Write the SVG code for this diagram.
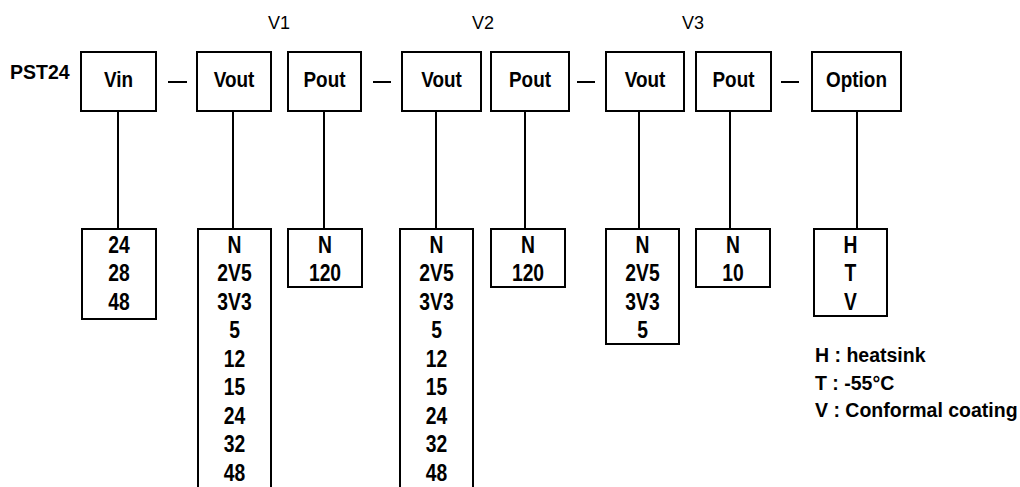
<svg xmlns="http://www.w3.org/2000/svg" width="1020" height="487" viewBox="0 0 1020 487">
<style>
rect{fill:#fff;stroke:#000;stroke-width:2}
line{stroke:#000;stroke-width:2}
.b{font-family:"Liberation Sans",Arial,sans-serif;font-weight:bold;font-size:23px;text-anchor:middle;fill:#000}
.t{font-family:"Liberation Sans",Arial,sans-serif;font-weight:bold;font-size:22px;text-anchor:middle;fill:#000}
.l{font-family:"Liberation Sans",Arial,sans-serif;font-weight:bold;font-size:19.5px;fill:#000}
.v{font-family:"Liberation Sans",Arial,sans-serif;font-size:18px;text-anchor:middle;fill:#000}
</style>
<rect x="0" y="0" width="1020" height="487" style="fill:#fff;stroke:none"/>
<text class="v" x="279" y="29">V1</text>
<text class="v" x="483" y="29">V2</text>
<text class="v" x="693" y="29">V3</text>
<text class="l" x="10" y="79">PST24</text>
<g id="connectors">
<line x1="118" y1="111" x2="118" y2="229"/>
<line x1="233" y1="111" x2="233" y2="229"/>
<line x1="324" y1="111" x2="324" y2="229"/>
<line x1="436" y1="111" x2="436" y2="229"/>
<line x1="525" y1="111" x2="525" y2="229"/>
<line x1="639" y1="111" x2="639" y2="229"/>
<line x1="730" y1="111" x2="730" y2="229"/>
<line x1="857" y1="111" x2="857" y2="229"/>
<line x1="168" y1="82" x2="187" y2="82"/>
<line x1="373" y1="82" x2="391" y2="82"/>
<line x1="577" y1="82" x2="595" y2="82"/>
<line x1="781" y1="82" x2="799" y2="82"/>
</g>
<g id="top-vin"><rect x="81" y="52" width="75" height="59"/><g transform="translate(118.5,0) scale(0.86,1)"><text class="t" x="0" y="87">Vin</text></g></g>
<g id="top-vout1"><rect x="197" y="52" width="74" height="59"/><g transform="translate(234,0) scale(0.86,1)"><text class="t" x="0" y="87">Vout</text></g></g>
<g id="top-pout1"><rect x="288" y="52" width="73" height="59"/><g transform="translate(324.5,0) scale(0.86,1)"><text class="t" x="0" y="87">Pout</text></g></g>
<g id="top-vout2"><rect x="402" y="52" width="79" height="59"/><g transform="translate(441.5,0) scale(0.86,1)"><text class="t" x="0" y="87">Vout</text></g></g>
<g id="top-pout2"><rect x="491" y="52" width="78" height="59"/><g transform="translate(530,0) scale(0.86,1)"><text class="t" x="0" y="87">Pout</text></g></g>
<g id="top-vout3"><rect x="606" y="52" width="78" height="59"/><g transform="translate(645,0) scale(0.86,1)"><text class="t" x="0" y="87">Vout</text></g></g>
<g id="top-pout3"><rect x="696" y="52" width="75" height="59"/><g transform="translate(733.5,0) scale(0.86,1)"><text class="t" x="0" y="87">Pout</text></g></g>
<g id="top-option"><rect x="812" y="52" width="89" height="59"/><g transform="translate(856.5,0) scale(0.86,1)"><text class="t" x="0" y="87">Option</text></g></g>

<g id="vin-values"><rect x="82" y="229" width="74" height="90"/><g transform="translate(119,0) scale(0.84,1)">
<text class="b" x="0" y="253">24</text><text class="b" x="0" y="281.5">28</text><text class="b" x="0" y="310">48</text></g></g>
<g id="vout1-values"><rect x="198" y="229" width="73" height="270"/><g transform="translate(234.5,0) scale(0.84,1)">
<text class="b" x="0" y="253">N</text><text class="b" x="0" y="281.5">2V5</text><text class="b" x="0" y="310">3V3</text><text class="b" x="0" y="338.5">5</text><text class="b" x="0" y="367">12</text><text class="b" x="0" y="395.5">15</text><text class="b" x="0" y="424">24</text><text class="b" x="0" y="452.5">32</text><text class="b" x="0" y="481">48</text></g></g>
<g id="pout1-values"><rect x="288" y="229" width="74" height="58"/><g transform="translate(325,0) scale(0.84,1)">
<text class="b" x="0" y="253">N</text><text class="b" x="0" y="281.5">120</text></g></g>
<g id="vout2-values"><rect x="400" y="229" width="73" height="270"/><g transform="translate(436.5,0) scale(0.84,1)">
<text class="b" x="0" y="253">N</text><text class="b" x="0" y="281.5">2V5</text><text class="b" x="0" y="310">3V3</text><text class="b" x="0" y="338.5">5</text><text class="b" x="0" y="367">12</text><text class="b" x="0" y="395.5">15</text><text class="b" x="0" y="424">24</text><text class="b" x="0" y="452.5">32</text><text class="b" x="0" y="481">48</text></g></g>
<g id="pout2-values"><rect x="491" y="229" width="74" height="58"/><g transform="translate(528,0) scale(0.84,1)">
<text class="b" x="0" y="253">N</text><text class="b" x="0" y="281.5">120</text></g></g>
<g id="vout3-values"><rect x="606" y="229" width="73" height="115"/><g transform="translate(642.5,0) scale(0.84,1)">
<text class="b" x="0" y="253">N</text><text class="b" x="0" y="281.5">2V5</text><text class="b" x="0" y="310">3V3</text><text class="b" x="0" y="338.5">5</text></g></g>
<g id="pout3-values"><rect x="696" y="229" width="74" height="58"/><g transform="translate(733,0) scale(0.84,1)">
<text class="b" x="0" y="253">N</text><text class="b" x="0" y="281.5">10</text></g></g>
<g id="option-values"><rect x="814" y="229" width="73" height="87"/><g transform="translate(850.5,0) scale(0.84,1)">
<text class="b" x="0" y="253">H</text><text class="b" x="0" y="281.5">T</text><text class="b" x="0" y="310">V</text></g></g>
<g id="legend">
<text class="l" x="815" y="362">H : heatsink</text>
<text class="l" x="815" y="390">T : -55°C</text>
<text class="l" x="815" y="417">V : Conformal coating</text>
</g>
</svg>
